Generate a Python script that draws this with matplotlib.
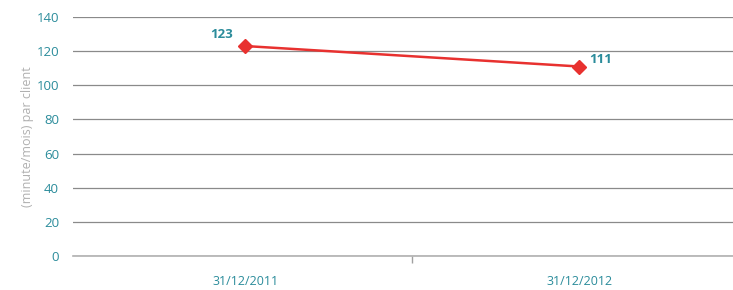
import matplotlib
matplotlib.use("Agg")
import matplotlib.pyplot as plt

# data
dates = ["31/12/2011", "31/12/2012"]
values = [123, 111]
yticks = [0, 20, 40, 60, 80, 100, 120, 140]

TEAL = "#2b8c9b"
RED = "#e8312f"
GRID = "#8a8a8a"

plt.rcParams["font.family"] = ["Open Sans", "DejaVu Sans"]

fig = plt.figure(figsize=(7.33, 2.9), dpi=100)
ax = fig.add_axes([73 / 733, 34 / 290, 660 / 733, 239 / 290])

x = list(range(len(dates)))
ax.plot(x, values, color=RED, lw=1.8, marker="D", markersize=7,
        markerfacecolor=RED, markeredgecolor=RED, zorder=3)

# value labels
ax.annotate(str(values[0]), (x[0], values[0]), xytext=(-17, 8),
            textcoords="offset points", ha="center", va="center",
            color=TEAL, fontsize=9.5, fontweight="bold")
ax.annotate(str(values[1]), (x[1], values[1]), xytext=(7, 5),
            textcoords="offset points", ha="left", va="center",
            color=TEAL, fontsize=9.5, fontweight="bold")

ax.set_ylim(0, 140)
ax.set_yticks(yticks)
ax.set_xlim(-0.515, 1.46)
ax.set_xticks(x)
ax.set_xticklabels(dates)
ax.set_xticks([0.5], minor=True)

ax.yaxis.grid(True, color=GRID, lw=0.9)
ax.set_axisbelow(True)
for s in ["top", "right", "left"]:
    ax.spines[s].set_visible(False)
ax.spines["bottom"].set_color("#b0b0b0")
ax.spines["bottom"].set_linewidth(1.2)

ax.tick_params(axis="y", length=0, pad=10, labelcolor=TEAL, labelsize=9.5)
ax.tick_params(axis="x", which="major", length=0, pad=14, labelcolor=TEAL,
               labelsize=9)
ax.tick_params(axis="x", which="minor", length=5, color="#a0a0a0", width=1)

ax.set_ylabel("(minute/mois) par client", color="#b0b0b0", fontsize=9,
              labelpad=2)

fig.savefig("out.png", dpi=100)
